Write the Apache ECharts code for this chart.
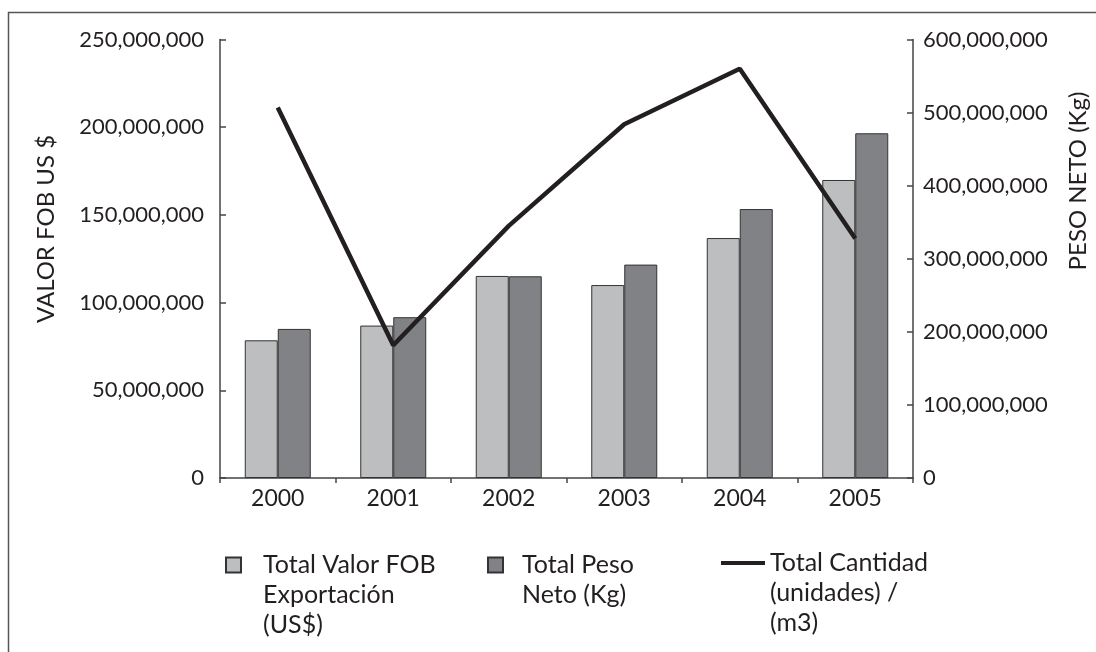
<!DOCTYPE html>
<html>
<head>
<meta charset="utf-8">
<script src="https://cdn.jsdelivr.net/npm/echarts@6/dist/echarts.min.js"></script>
<style>
html,body{margin:0;padding:0;background:#fff;}
#chart{width:1096px;height:652px;}
</style>
</head>
<body>
<div id="chart"></div>
<script>
const categories = ['2000', '2001', '2002', '2003', '2004', '2005'];
const valorFob = [78.5e6, 86.9e6, 115.2e6, 110.0e6, 136.8e6, 169.9e6];
const pesoNeto = [204e6, 220e6, 276e6, 292e6, 368e6, 471.7e6];
const cantidad = [507e6, 181.6e6, 345e6, 484e6, 560e6, 327.6e6];
const seriesNames = ['Total Valor FOB\nExportación\n(US$)', 'Total Peso\nNeto (Kg)', 'Total Cantidad\n(unidades) /\n(m3)'];
const leftAxisName = 'VALOR FOB US $';
const rightAxisName = 'PESO NETO (Kg)';

const FONT = 'Lato';
const TXT = '#231f20';
const fmt = v => Number(v).toLocaleString('en-US');

const chart = echarts.init(document.getElementById('chart'));
// pad the label with blank lines on top so that, once centred, its first line sits level with the icon
const legendFormatter = name => {
  const n = name.split('\n').length;
  return new Array(n - 1).fill(' ').map(s => s + '\n').join('') + name;
};
const legendText = (padLeft) => ({
  fontFamily: FONT, fontSize: 25, color: TXT, lineHeight: 30,
  padding: [0, 0, 0, padLeft]
});
chart.setOption({
  animation: false,
  backgroundColor: '#fff',
  grid: { left: 220, right: 183, top: 39.5, bottom: 174, containLabel: false },
  xAxis: {
    type: 'category', data: categories,
    axisLine: { lineStyle: { color: '#444', width: 1.5 } },
    axisTick: { show: true, length: 5, lineStyle: { color: '#444', width: 1.5 } },
    axisLabel: { fontFamily: FONT, fontSize: 23, color: TXT, margin: 9 }
  },
  yAxis: [
    {
      type: 'value', min: 0, max: 250e6, interval: 50e6, position: 'left',
      axisLine: { show: true, lineStyle: { color: '#444', width: 1.5 } },
      axisTick: { show: true, inside: true, length: 6, lineStyle: { color: '#444', width: 1.5 } },
      splitLine: { show: false },
      axisLabel: { fontFamily: FONT, fontSize: 22, color: TXT, margin: 16, formatter: fmt }
    },
    {
      type: 'value', min: 0, max: 600e6, interval: 100e6, position: 'right',
      axisLine: { show: true, lineStyle: { color: '#444', width: 1.5 } },
      axisTick: { show: true, inside: true, length: 6, lineStyle: { color: '#444', width: 1.5 } },
      splitLine: { show: false },
      axisLabel: { fontFamily: FONT, fontSize: 22, color: TXT, margin: 10, formatter: fmt }
    }
  ],
  legend: [
    { data: [seriesNames[0]], left: 225, top: 490, padding: 0, icon: 'rect', itemWidth: 15, itemHeight: 15, formatter: legendFormatter, textStyle: legendText(17), selectedMode: false },
    { data: [seriesNames[1]], left: 487, top: 520, padding: 0, icon: 'rect', itemWidth: 15, itemHeight: 15, formatter: legendFormatter, textStyle: legendText(14), selectedMode: false },
    { data: [seriesNames[2]], left: 721, top: 488, padding: 0, icon: 'rect', itemWidth: 44, itemHeight: 4, formatter: legendFormatter, textStyle: legendText(0), selectedMode: false }
  ],
  series: [
    {
      name: seriesNames[0], type: 'bar', yAxisIndex: 0, data: valorFob,
      barWidth: 33, barGap: '0%',
      itemStyle: { color: '#bdbec0', borderColor: '#333', borderWidth: 1 }
    },
    {
      name: seriesNames[1], type: 'bar', yAxisIndex: 1, data: pesoNeto,
      barWidth: 33, barGap: '0%',
      itemStyle: { color: '#818285', borderColor: '#333', borderWidth: 1 }
    },
    {
      name: seriesNames[2], type: 'line', yAxisIndex: 1, data: cantidad,
      symbol: 'none', lineStyle: { color: '#231f20', width: 4.5 },
      itemStyle: { color: '#231f20' }
    }
  ],
  graphic: [
    { type: 'rect', shape: { x: 8.5, y: 12.5, width: 3000, height: 3000 }, style: { fill: 'none', stroke: '#555', lineWidth: 1.5 }, silent: true, z: -1 },
    { type: 'text', x: 46, y: 229, rotation: Math.PI / 2, style: { text: leftAxisName, fontFamily: FONT, fontSize: 24, fill: TXT, align: 'center', verticalAlign: 'middle' } },
    { type: 'text', x: 1078, y: 181, rotation: Math.PI / 2, style: { text: rightAxisName, fontFamily: FONT, fontSize: 24, fill: TXT, align: 'center', verticalAlign: 'middle' } }
  ]
});
</script>
</body>
</html>
